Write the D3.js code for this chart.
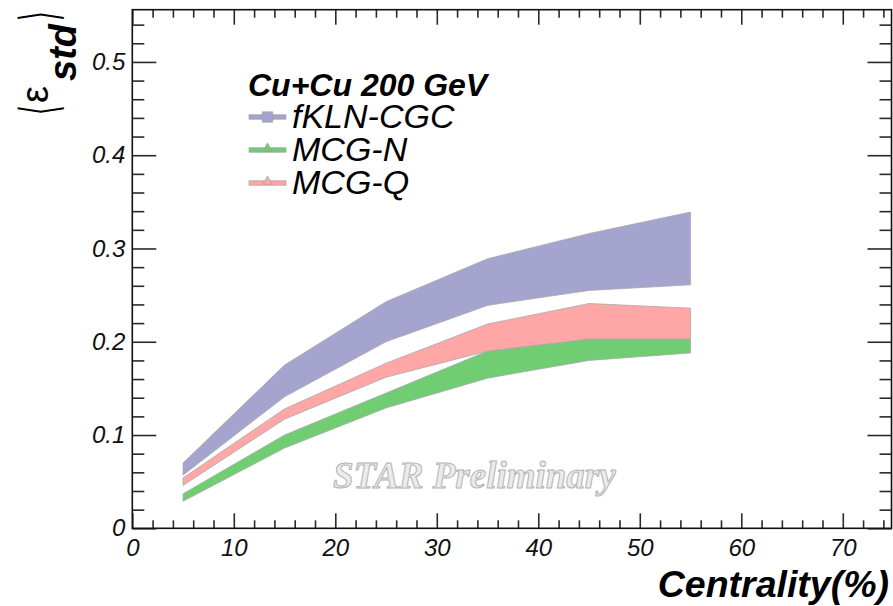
<!DOCTYPE html>
<html>
<head>
<meta charset="utf-8">
<script src="https://cdn.jsdelivr.net/npm/d3@7"></script>
<style>
  html, body { margin: 0; padding: 0; background: #fff; }
  svg { display: block; }
</style>
</head>
<body>
<svg id="chart" width="893" height="606"></svg>
<script>
// Centrality bin centres (%)
const centrality = [5, 15, 25, 35, 45, 55];

// Eccentricity bands: lower and upper edge of each model
const fklnLow  = [0.057, 0.141, 0.200, 0.239, 0.255, 0.261];
const fklnHigh = [0.070, 0.175, 0.243, 0.289, 0.316, 0.339];
const mcgnLow  = [0.029, 0.086, 0.129, 0.161, 0.180, 0.188];
const mcgnHigh = [0.037, 0.100, 0.145, 0.190, 0.203, 0.203];
const mcgqLow  = [0.046, 0.117, 0.162, 0.190, 0.203, 0.203];
const mcgqHigh = [0.054, 0.128, 0.177, 0.219, 0.241, 0.236];

const seriesNames = ["fKLN-CGC", "MCG-N", "MCG-Q"];
const seriesColors = ["#a4a4ce", "#70cd72", "#ffa6a6"];
const seriesMarkers = ["square", "triangle", "triangle"];

// Axis ticks
const xTicks = [0, 10, 20, 30, 40, 50, 60, 70];
const yTicks = [0, 0.1, 0.2, 0.3, 0.4, 0.5];

const svg = d3.select("#chart");
const x = d3.scaleLinear().domain([0, 74.8]).range([132.3, 891.5]);
const y = d3.scaleLinear().domain([0, 0.556]).range([528.3, 9.7]);

const x0 = x.range()[0], x1 = x.range()[1];
const y0 = y.range()[0], y1 = y.range()[1];

// Bands
const bands = [
  { lo: fklnLow, hi: fklnHigh },
  { lo: mcgnLow, hi: mcgnHigh },
  { lo: mcgqLow, hi: mcgqHigh }
];
const area = d3.area()
  .x(d => x(d.c))
  .y0(d => y(d.lo))
  .y1(d => y(d.hi));

svg.append("g").selectAll("path")
  .data(bands)
  .join("path")
  .attr("d", b => area(centrality.map((c, i) => ({ c, lo: b.lo[i], hi: b.hi[i] }))))
  .attr("fill", (b, i) => seriesColors[i])
  .attr("stroke", "#a8a8a8")
  .attr("stroke-width", 0.8);

// Watermark
svg.append("text")
  .attr("x", 333).attr("y", 488)
  .attr("font-family", "Liberation Serif, serif")
  .attr("font-style", "italic")
  .attr("font-weight", "bold")
  .attr("font-size", 37)
  .attr("fill", "#ebebeb")
  .attr("stroke", "#b4b4b4")
  .attr("stroke-width", 1)
  .text("STAR Preliminary");

// Axes with inward ticks on all four sides
const xMinor = d3.range(0, 38).map(i => i * 2).filter(v => v % 10 !== 0 && v <= 74.8);
const yMinor = d3.range(0, 28).filter(i => i % 5 !== 0).map(i => i * 0.02);
const tickFont = "Liberation Sans, Arial, sans-serif";

function styleAxis(g) {
  g.select(".domain").remove();
  g.selectAll(".tick line").attr("stroke", "#2a2a2a").attr("stroke-width", 1.6);
  g.selectAll(".tick text")
    .attr("font-family", tickFont)
    .attr("font-style", "italic")
    .attr("font-size", 24)
    .attr("fill", "#111");
}

svg.append("g").attr("transform", `translate(0,${y0})`)
  .call(d3.axisBottom(x).tickValues(xTicks).tickSize(-15).tickPadding(11).tickFormat(d3.format("d")))
  .call(styleAxis);
svg.append("g").attr("transform", `translate(0,${y0})`)
  .call(d3.axisBottom(x).tickValues(xMinor).tickSize(-8).tickFormat(""))
  .call(styleAxis);
svg.append("g").attr("transform", `translate(0,${y1})`)
  .call(d3.axisTop(x).tickValues(xTicks).tickSize(-15).tickFormat(""))
  .call(styleAxis);
svg.append("g").attr("transform", `translate(0,${y1})`)
  .call(d3.axisTop(x).tickValues(xMinor).tickSize(-8).tickFormat(""))
  .call(styleAxis);

svg.append("g").attr("transform", `translate(${x0},0)`)
  .call(d3.axisLeft(y).tickValues(yTicks).tickSize(-24).tickPadding(7)
    .tickFormat(d => d === 0 ? "0" : d3.format(".1f")(d)))
  .call(styleAxis);
svg.append("g").attr("transform", `translate(${x0},0)`)
  .call(d3.axisLeft(y).tickValues(yMinor).tickSize(-12).tickFormat(""))
  .call(styleAxis);
svg.append("g").attr("transform", `translate(${x1},0)`)
  .call(d3.axisRight(y).tickValues(yTicks).tickSize(-24).tickFormat(""))
  .call(styleAxis);
svg.append("g").attr("transform", `translate(${x1},0)`)
  .call(d3.axisRight(y).tickValues(yMinor).tickSize(-12).tickFormat(""))
  .call(styleAxis);

// Frame
svg.append("rect")
  .attr("x", x0).attr("y", y1)
  .attr("width", x1 - x0).attr("height", y0 - y1)
  .attr("fill", "none")
  .attr("stroke", "#111")
  .attr("stroke-width", 1.6);

// X axis title
svg.append("text")
  .attr("x", 889).attr("y", 597)
  .attr("text-anchor", "end")
  .attr("font-family", tickFont)
  .attr("font-style", "italic")
  .attr("font-weight", "bold")
  .attr("font-size", 37.5)
  .attr("fill", "#000")
  .text("Centrality(%)");

// Y axis title: <eps_std>, rotated to read upwards
const yt = svg.append("g").attr("transform", "translate(40,64) rotate(-90)")
  .attr("font-family", tickFont).attr("fill", "#000");
yt.append("text")
  .attr("transform", "translate(-46.5,-1) scale(0.62,1.3)")
  .attr("text-anchor", "middle")
  .attr("dominant-baseline", "central")
  .attr("font-family", "DejaVu Sans, sans-serif")
  .attr("font-size", 40).attr("font-weight", 200)
  .text("\u27E8");
yt.append("text").attr("x", -39).attr("y", 8)
  .attr("font-size", 38)
  .text("\u03B5");
yt.append("text").attr("x", -17).attr("y", 36)
  .attr("font-style", "italic").attr("font-weight", "bold")
  .attr("font-size", 38)
  .text("std");
yt.append("text")
  .attr("transform", "translate(48,-1) scale(0.62,1.3)")
  .attr("text-anchor", "middle")
  .attr("dominant-baseline", "central")
  .attr("font-family", "DejaVu Sans, sans-serif")
  .attr("font-size", 40).attr("font-weight", 200)
  .text("\u27E9");

// Legend
const legend = svg.append("g");
legend.append("text")
  .attr("x", 248).attr("y", 96)
  .attr("font-family", tickFont)
  .attr("font-style", "italic").attr("font-weight", "bold")
  .attr("font-size", 32)
  .text("Cu+Cu 200 GeV");

const rows = legend.selectAll("g.row")
  .data(seriesNames)
  .join("g")
  .attr("class", "row")
  .attr("transform", (d, i) => `translate(0,${117 + i * 33})`);
rows.append("rect")
  .attr("x", 249).attr("y", -2.2).attr("width", 37).attr("height", 4.4)
  .attr("fill", (d, i) => seriesColors[i])
  .attr("stroke", "#9a9a9a").attr("stroke-width", 0.6);
rows.append("path")
  .attr("transform", (d, i) => seriesMarkers[i] === "square" ? "translate(267.5,0)" : "translate(267.5,-1.5)")
  .attr("d", (d, i) => d3.symbol()
    .type(seriesMarkers[i] === "square" ? d3.symbolSquare : d3.symbolTriangle)
    .size(seriesMarkers[i] === "square" ? 110 : 40)())
  .attr("fill", (d, i) => seriesColors[i])
  .attr("stroke", "#9a9a9a").attr("stroke-width", 0.6);
rows.append("text")
  .attr("x", 292).attr("y", 11)
  .attr("font-family", tickFont)
  .attr("font-style", "italic")
  .attr("font-size", 34)
  .attr("fill", "#000")
  .text(d => d);
</script>
</body>
</html>
